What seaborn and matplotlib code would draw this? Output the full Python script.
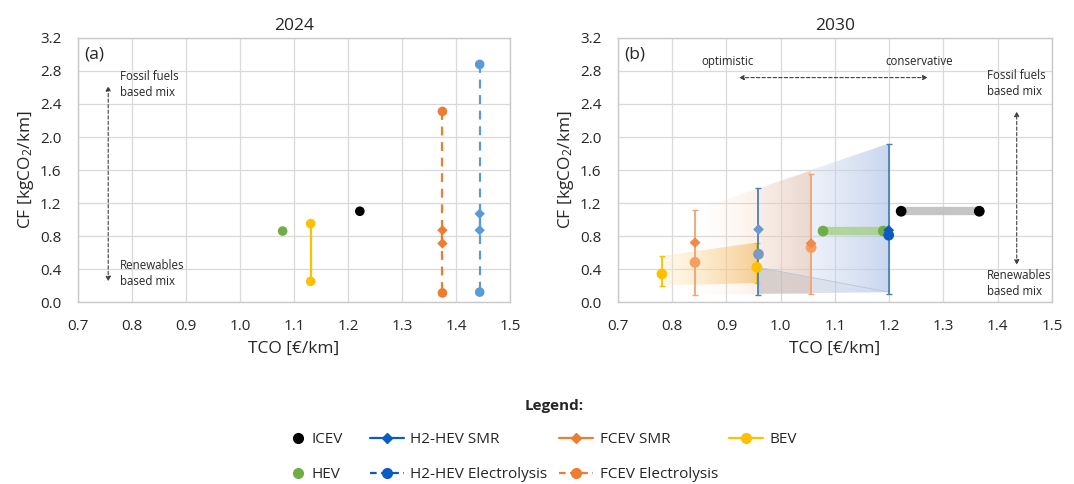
import numpy as np
import pandas as pd
import matplotlib
matplotlib.use("Agg")
import matplotlib.pyplot as plt
from matplotlib.patches import Polygon
from matplotlib.lines import Line2D
from matplotlib.colors import to_rgb
import seaborn as sns

# ---------------- 2024: TCO [EUR/km] and CF [kgCO2/km] ----------------
icev_2024_x, icev_2024_cf = [1.222], [1.10]
hev_2024_x, hev_2024_cf = [1.079], [0.86]
bev_2024_x, bev_2024_cf = [1.131, 1.131], [0.95, 0.25]
fcev_2024_x = [1.375, 1.375]
fcev_smr_2024_cf = [0.87, 0.71]
fcev_el_2024_cf = [2.31, 0.11]
h2_2024_x = [1.444, 1.444]
h2_smr_2024_cf = [1.07, 0.87]
h2_el_2024_cf = [2.88, 0.12]

# ---------------- 2030: optimistic / conservative TCO ----------------
bev_2030_x = [0.781, 0.956]
bev_2030_cf = [0.34, 0.42]
bev_2030_lo = [0.20, 0.23]
bev_2030_hi = [0.56, 0.72]
fcev_2030_x = [0.842, 1.056]
fcev_smr_2030_cf = [0.72, 0.71]
fcev_el_2030_cf = [0.48, 0.66]
fcev_2030_lo = [0.09, 0.10]
fcev_2030_hi = [1.12, 1.55]
h2_2030_x = [0.959, 1.199]
h2_smr_2030_cf = [0.88, 0.87]
h2_el_2030_cf = [0.58, 0.81]
h2_2030_lo = [0.09, 0.10]
h2_2030_hi = [1.385, 1.92]
h2_2030_mid = [0.42, 0.12]
hev_2030_x, hev_2030_cf = [1.078, 1.189], [0.86, 0.86]
icev_2030_x, icev_2030_cf = [1.222, 1.366], [1.10, 1.10]

x_ticks = [0.7, 0.8, 0.9, 1.0, 1.1, 1.2, 1.3, 1.4, 1.5]
y_ticks = [0.0, 0.4, 0.8, 1.2, 1.6, 2.0, 2.4, 2.8, 3.2]

C_ICEV = "#000000"
C_HEV = "#70AD47"
C_BEV = "#FFC000"
C_FCEV = "#ED7D31"
C_H2 = "#0B5CC0"
C_H2_LIGHT = "#5B9BD5"

sns.set_theme(style="whitegrid")
FONT = ["Open Sans", "DejaVu Sans"]
plt.rcParams.update({
    "font.family": FONT,
    "mathtext.fontset": "custom",
    "mathtext.rm": "Open Sans",
    "mathtext.it": "Open Sans",
    "grid.color": "#D9D9D9",
    "grid.linewidth": 0.9,
    "axes.edgecolor": "#C8C8C8",
    "axes.linewidth": 1.0,
    "xtick.color": "#262626",
    "ytick.color": "#262626",
    "text.color": "#262626",
    "axes.labelcolor": "#262626",
})

fig = plt.figure(figsize=(10.74, 4.84), dpi=100)
ax1 = fig.add_axes([0.0726, 0.376, 0.4022, 0.5455])
ax2 = fig.add_axes([0.5754, 0.376, 0.4041, 0.5455])


def scatter(ax, xs, ys, color, marker="o", size=48, z=5):
    df = pd.DataFrame({"TCO": xs, "CF": ys})
    sns.scatterplot(data=df, x="TCO", y="CF", ax=ax, color=color, marker=marker,
                    s=size, edgecolor="none", linewidth=0, zorder=z, legend=False)


def gradient_fill(ax, xs, ys, c0, c1, a0, a1, z):
    poly = Polygon(np.column_stack([xs, ys]), closed=True, facecolor="none",
                   edgecolor="none")
    ax.add_patch(poly)
    n = 256
    t = np.linspace(0, 1, n)
    r0, r1 = np.array(to_rgb(c0)), np.array(to_rgb(c1))
    img = np.zeros((1, n, 4))
    img[0, :, :3] = r0 + (r1 - r0) * t[:, None]
    img[0, :, 3] = a0 + (a1 - a0) * t
    im = ax.imshow(img, extent=[min(xs), max(xs), min(ys), max(ys)], aspect="auto",
                   origin="lower", interpolation="bilinear", zorder=z)
    im.set_clip_path(poly)


# ---------------- panel (a): 2024 ----------------
ax1.plot(bev_2024_x, bev_2024_cf, color=C_BEV, lw=1.6, zorder=3)
ax1.plot(fcev_2024_x, fcev_el_2024_cf, color=C_FCEV, lw=1.6, ls=(0, (4, 3)), zorder=3)
ax1.plot(fcev_2024_x, fcev_smr_2024_cf, color=C_FCEV, lw=1.6, zorder=3)
ax1.plot(h2_2024_x, h2_el_2024_cf, color=C_H2_LIGHT, lw=1.6, ls=(0, (4, 3)), zorder=3)
ax1.plot(h2_2024_x, h2_smr_2024_cf, color=C_H2_LIGHT, lw=1.6, zorder=3)
scatter(ax1, icev_2024_x, icev_2024_cf, C_ICEV)
scatter(ax1, hev_2024_x, hev_2024_cf, C_HEV)
scatter(ax1, bev_2024_x, bev_2024_cf, C_BEV)
scatter(ax1, fcev_2024_x, fcev_el_2024_cf, C_FCEV)
scatter(ax1, fcev_2024_x, fcev_smr_2024_cf, C_FCEV, marker="D", size=28)
scatter(ax1, h2_2024_x, h2_el_2024_cf, C_H2_LIGHT)
scatter(ax1, h2_2024_x, h2_smr_2024_cf, C_H2_LIGHT, marker="D", size=28)

# ---------------- panel (b): 2030 ----------------
gradient_fill(ax2, [fcev_2030_x[0], fcev_2030_x[1], fcev_2030_x[1], fcev_2030_x[0]],
              [fcev_2030_hi[0], fcev_2030_hi[1] + 0.04, fcev_2030_lo[1], fcev_2030_lo[0]],
              "#FBE5D6", "#F4B183", 0.0, 0.5, 1)
gradient_fill(ax2, [h2_2030_x[0], h2_2030_x[1], h2_2030_x[1], h2_2030_x[0]],
              [h2_2030_hi[0], h2_2030_hi[1], h2_2030_lo[1] + 0.02, h2_2030_lo[0] + 0.01],
              "#DAE3F3", "#B4C7E7", 0.1, 0.72, 1.2)
gradient_fill(ax2, [h2_2030_x[0], h2_2030_x[1], h2_2030_x[0]],
              [h2_2030_mid[0], h2_2030_mid[1], h2_2030_lo[0] + 0.01],
              "#8C8C94", "#B4C4E0", 0.32, 0.0, 1.3)
gradient_fill(ax2, [bev_2030_x[0], bev_2030_x[1], bev_2030_x[1], bev_2030_x[0]],
              [bev_2030_hi[0], bev_2030_hi[1], bev_2030_lo[1], bev_2030_lo[0]],
              "#FFE9B8", "#F5BE70", 0.3, 0.68, 1.4)
ax2.plot([0.959, 1.199], [0.42, 0.12], color="#B8C5DC", lw=0.6, zorder=1.5)

eb_kw = dict(fmt="none", elinewidth=1.3, capsize=2.5, capthick=1.0, zorder=3)
ax2.errorbar(bev_2030_x, bev_2030_cf,
             yerr=[np.subtract(bev_2030_cf, bev_2030_lo), np.subtract(bev_2030_hi, bev_2030_cf)],
             ecolor=C_BEV, **eb_kw)
ax2.errorbar(fcev_2030_x, fcev_el_2030_cf,
             yerr=[np.subtract(fcev_el_2030_cf, fcev_2030_lo), np.subtract(fcev_2030_hi, fcev_el_2030_cf)],
             ecolor="#F4A26B", **eb_kw)
ax2.errorbar(h2_2030_x, h2_el_2030_cf,
             yerr=[np.subtract(h2_el_2030_cf, h2_2030_lo), np.subtract(h2_2030_hi, h2_el_2030_cf)],
             ecolor="#4A7EBB", **eb_kw)

ax2.plot(hev_2030_x, hev_2030_cf, color="#A9D18E", lw=6, alpha=0.85,
         solid_capstyle="butt", zorder=3)
ax2.plot(icev_2030_x, icev_2030_cf, color="#BFBFBF", lw=6, alpha=0.9,
         solid_capstyle="butt", zorder=3)

scatter(ax2, bev_2030_x, bev_2030_cf, C_BEV, size=60)
scatter(ax2, fcev_2030_x, fcev_el_2030_cf, "#F4A060", size=60)
scatter(ax2, fcev_2030_x, fcev_smr_2030_cf, "#F08A4B", marker="D", size=30)
scatter(ax2, [h2_2030_x[0]], [h2_el_2030_cf[0]], "#7A9CC4", size=60)
scatter(ax2, [h2_2030_x[0]], [h2_smr_2030_cf[0]], "#6A9AD0", marker="D", size=30)
scatter(ax2, hev_2030_x, hev_2030_cf, C_HEV, size=60)
scatter(ax2, [h2_2030_x[1]], [h2_smr_2030_cf[1]], C_H2, marker="D", size=30, z=6)
scatter(ax2, [h2_2030_x[1]], [h2_el_2030_cf[1]], C_H2, size=60, z=6)
scatter(ax2, icev_2030_x, icev_2030_cf, C_ICEV, size=60)

# ---------------- shared axis styling ----------------
for ax, title in [(ax1, "2024"), (ax2, "2030")]:
    ax.set_xlim(0.7, 1.5)
    ax.set_ylim(0.0, 3.2)
    ax.set_xticks(x_ticks)
    ax.set_yticks(y_ticks)
    ax.set_xticklabels([f"{v:.1f}" for v in x_ticks], fontsize=11)
    ax.set_yticklabels([f"{v:.1f}" for v in y_ticks], fontsize=11)
    ax.tick_params(axis="x", length=0, pad=12)
    ax.tick_params(axis="y", length=0, pad=12)
    ax.set_xlabel("TCO [€/km]", fontsize=12.5, labelpad=5)
    ax.set_ylabel("CF [kgCO$_2$/km]", fontsize=12.5, labelpad=3)
    ax.set_title(title, fontsize=12.5, pad=6)
    ax.grid(True, zorder=0)
    ax.set_axisbelow(True)
    for s in ax.spines.values():
        s.set_visible(True)
        s.set_color("#C8C8C8")

arrow_kw = dict(arrowstyle="<|-|>", color="#404040", lw=0.8, linestyle=(0, (3, 2)),
                mutation_scale=7, shrinkA=0, shrinkB=0)
small = 8.3

ax1.text(0.712, 3.0, "(a)", fontsize=12.5, va="center", ha="left")
ax1.annotate("", xy=(0.756, 2.62), xytext=(0.756, 0.25), arrowprops=arrow_kw)
ax1.text(0.778, 2.64, "Fossil fuels\nbased mix", fontsize=small, va="center", ha="left",
         linespacing=1.3)
ax1.text(0.778, 0.34, "Renewables\nbased mix", fontsize=small, va="center", ha="left",
         linespacing=1.3)

ax2.text(0.712, 3.0, "(b)", fontsize=12.5, va="center", ha="left")
ax2.text(0.902, 2.92, "optimistic", fontsize=small, va="center", ha="center")
ax2.text(1.255, 2.92, "conservative", fontsize=small, va="center", ha="center")
ax2.annotate("", xy=(0.923, 2.72), xytext=(1.271, 2.72), arrowprops=arrow_kw)
ax2.annotate("", xy=(1.435, 2.31), xytext=(1.435, 0.45), arrowprops=arrow_kw)
ax2.text(1.38, 2.65, "Fossil fuels\nbased mix", fontsize=small, va="center", ha="left",
         linespacing=1.3)
ax2.text(1.38, 0.23, "Renewables\nbased mix", fontsize=small, va="center", ha="left",
         linespacing=1.3)

# ---------------- legend ----------------
point_handles = [
    Line2D([], [], color=C_ICEV, marker="o", ls="none", markersize=7),
    Line2D([], [], color=C_HEV, marker="o", ls="none", markersize=7),
]
point_labels = ["ICEV", "HEV"]
range_handles = [
    Line2D([], [], color=C_H2, marker="D", ls="-", lw=1.6, markersize=5),
    Line2D([], [], color=C_H2, marker="o", ls=(0, (3, 2)), lw=1.6, markersize=7),
    Line2D([], [], color=C_FCEV, marker="D", ls="-", lw=1.6, markersize=5),
    Line2D([], [], color=C_FCEV, marker="o", ls=(0, (3, 2)), lw=1.6, markersize=7),
    Line2D([], [], color=C_BEV, marker="o", ls="-", lw=1.6, markersize=7),
]
range_labels = ["H2-HEV SMR", "H2-HEV Electrolysis", "FCEV SMR", "FCEV Electrolysis",
                "BEV"]
fig.text(0.516, 1 - 406 / 484, "Legend:", fontsize=11, fontweight="bold",
         ha="center", va="center")
leg_kw = dict(frameon=False, fontsize=11, handletextpad=0.45, labelspacing=1.3,
              borderpad=0, borderaxespad=0)
fig.legend(point_handles, point_labels, ncol=1, loc="upper left",
           bbox_to_anchor=(292 / 1074, 1 - 432 / 484), handlelength=0.8, **leg_kw)
fig.legend(range_handles, range_labels, ncol=3, loc="upper left",
           bbox_to_anchor=(370 / 1074, 1 - 432 / 484), handlelength=2.2,
           columnspacing=0.75, **leg_kw)

fig.savefig("out.png", dpi=100)
